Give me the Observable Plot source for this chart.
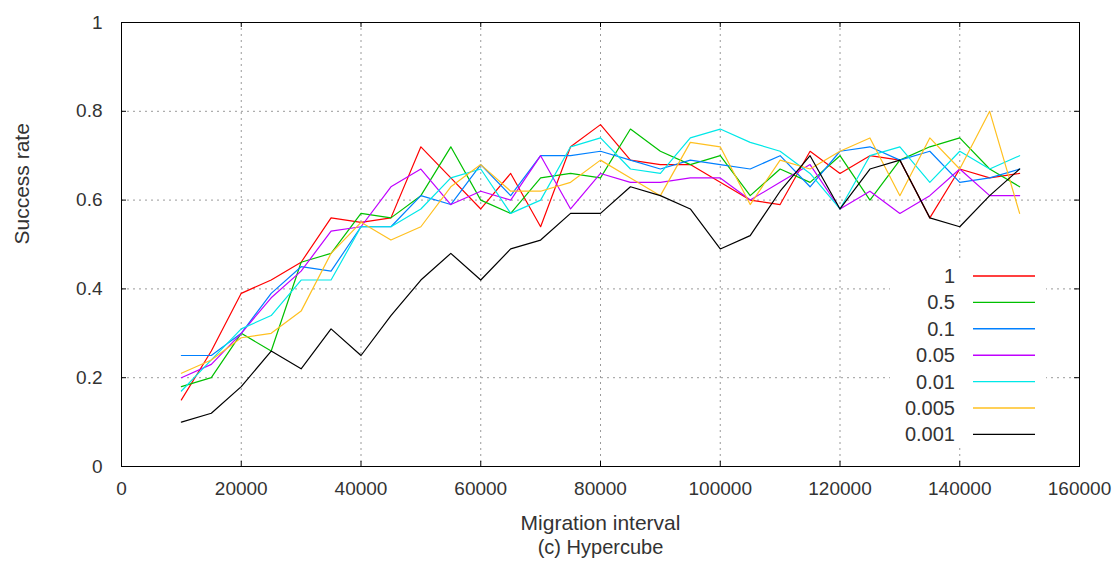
<!DOCTYPE html>
<html><head><meta charset="utf-8">
<script src="https://cdn.jsdelivr.net/npm/d3@7"></script>
<script src="https://cdn.jsdelivr.net/npm/@observablehq/plot@0.6"></script>
<style>
body{margin:0;background:#fff;}
#wrap{position:relative;width:1115px;height:572px;overflow:hidden;}
#legend{position:absolute;left:890px;top:262px;width:156px;height:186px;background:#fff;}
</style>
</head><body>
<div id="wrap"><div id="chart"></div><div id="legend"></div></div>
<script>
const intervals = [10000,15000,20000,25000,30000,35000,40000,45000,50000,55000,60000,65000,70000,75000,80000,85000,90000,95000,100000,105000,110000,115000,120000,125000,130000,135000,140000,145000,150000];
const seriesNames = ["1","0.5","0.1","0.05","0.01","0.005","0.001"];
const seriesColors = ["#ff0000","#00c000","#0080ff","#c000ff","#00e8e8","#ffc020","#000000"];
const rate1    = [0.15,0.26,0.39,0.42,0.46,0.56,0.55,0.56,0.72,0.65,0.58,0.66,0.54,0.72,0.77,0.69,0.68,0.68,0.64,0.60,0.59,0.71,0.66,0.70,0.69,0.56,0.67,0.65,0.66];
const rate05   = [0.18,0.20,0.30,0.26,0.46,0.48,0.57,0.56,0.61,0.72,0.60,0.57,0.65,0.66,0.65,0.76,0.71,0.68,0.70,0.61,0.67,0.64,0.70,0.60,0.69,0.72,0.74,0.67,0.63];
const rate01   = [0.25,0.25,0.30,0.39,0.45,0.44,0.54,0.54,0.61,0.59,0.68,0.61,0.70,0.70,0.71,0.69,0.67,0.69,0.68,0.67,0.70,0.63,0.71,0.72,0.69,0.71,0.64,0.65,0.67];
const rate005  = [0.20,0.23,0.30,0.38,0.44,0.53,0.54,0.63,0.67,0.59,0.62,0.60,0.70,0.58,0.66,0.64,0.64,0.65,0.65,0.60,0.64,0.68,0.58,0.62,0.57,0.61,0.67,0.61,0.61];
const rate001  = [0.17,0.24,0.31,0.34,0.42,0.42,0.54,0.54,0.58,0.65,0.67,0.57,0.60,0.72,0.74,0.67,0.66,0.74,0.76,0.73,0.71,0.66,0.58,0.70,0.72,0.64,0.71,0.67,0.70];
const rate0005 = [0.21,0.24,0.29,0.30,0.35,0.48,0.55,0.51,0.54,0.63,0.68,0.62,0.62,0.64,0.69,0.65,0.61,0.73,0.72,0.59,0.69,0.67,0.71,0.74,0.61,0.74,0.67,0.80,0.57];
const rate0001 = [0.10,0.12,0.18,0.26,0.22,0.31,0.25,0.34,0.42,0.48,0.42,0.49,0.51,0.57,0.57,0.63,0.61,0.58,0.49,0.52,0.62,0.70,0.58,0.67,0.69,0.56,0.54,0.61,0.67];
const xTicks = [0,20000,40000,60000,80000,100000,120000,140000,160000];
const yTicks = [0,0.2,0.4,0.6,0.8,1];
const xGrid = [20000,40000,60000,80000,100000,120000,140000];
const yGrid = [0.2,0.4,0.6,0.8];

const allSeries = [rate1,rate05,rate01,rate005,rate001,rate0005,rate0001];
const rows = [];
allSeries.forEach((vals,i)=>vals.forEach((v,j)=>rows.push({x:intervals[j],y:v,s:seriesNames[i]})));

const W=1115,H=572,mL=121,mR=36,mT=22,mB=106;
const fw=W-mL-mR, fh=H-mT-mB;
const font='"Liberation Sans",Arial,sans-serif';
const tcol="#333";
const fs=19;

const chart = Plot.plot({
  width:W,height:H,marginLeft:mL,marginRight:mR,marginTop:mT,marginBottom:mB,
  style:{fontFamily:font,fontSize:fs+"px",color:tcol,background:"#fff"},
  x:{domain:[0,160000]},
  y:{domain:[0,1]},
  color:{domain:seriesNames,range:seriesColors},
  marks:[
    Plot.ruleX(xGrid,{x:d=>d,stroke:"#9a9a9a",strokeDasharray:"2,4"}),
    Plot.ruleY(yGrid,{y:d=>d,stroke:"#9a9a9a",strokeDasharray:"2,4"}),
    Plot.tickX(xTicks,{x:d=>d,insetTop:fh-5,stroke:"#000"}),
    Plot.tickX(xTicks,{x:d=>d,insetBottom:fh-5,stroke:"#000"}),
    Plot.tickY(yTicks,{y:d=>d,insetRight:fw-5,stroke:"#000"}),
    Plot.tickY(yTicks,{y:d=>d,insetLeft:fw-5,stroke:"#000"}),
    Plot.line(rows,{x:"x",y:"y",z:"s",stroke:"s",strokeWidth:1.2}),
    Plot.axisX(xTicks,{tickSize:0,tickPadding:15,tickFormat:d=>String(d),fontSize:fs,label:null}),
    Plot.axisY(yTicks,{tickSize:0,tickPadding:19,tickFormat:d=>String(+d.toFixed(1)),fontSize:fs,label:null}),
    Plot.frame({stroke:"#000"}),
    Plot.text(["Success rate"],{text:d=>d,frameAnchor:"left",dx:-99,rotate:-90,fontSize:21,fill:tcol}),
    Plot.text(["Migration interval"],{text:d=>d,frameAnchor:"bottom",dy:63,fontSize:21,fill:tcol}),
    Plot.text(["(c) Hypercube"],{text:d=>d,frameAnchor:"bottom",dy:87,fontSize:20,fill:tcol})
  ]
});
document.getElementById("chart").appendChild(chart);

// legend
const ns="http://www.w3.org/2000/svg";
const lsvg=document.createElementNS(ns,"svg");
lsvg.setAttribute("width",156);lsvg.setAttribute("height",186);
lsvg.style.fontFamily=font;
seriesNames.forEach((n,i)=>{
  const cy=14+i*26.4;
  const t=document.createElementNS(ns,"text");
  t.setAttribute("x",65);t.setAttribute("y",cy);t.setAttribute("text-anchor","end");
  t.setAttribute("dominant-baseline","central");t.setAttribute("font-size",20);t.setAttribute("fill",tcol);
  t.textContent=n;lsvg.appendChild(t);
  const l=document.createElementNS(ns,"line");
  l.setAttribute("x1",83);l.setAttribute("x2",145);l.setAttribute("y1",cy);l.setAttribute("y2",cy);
  l.setAttribute("stroke",seriesColors[i]);l.setAttribute("stroke-width",1.4);
  lsvg.appendChild(l);
});
document.getElementById("legend").appendChild(lsvg);
</script>
</body></html>
